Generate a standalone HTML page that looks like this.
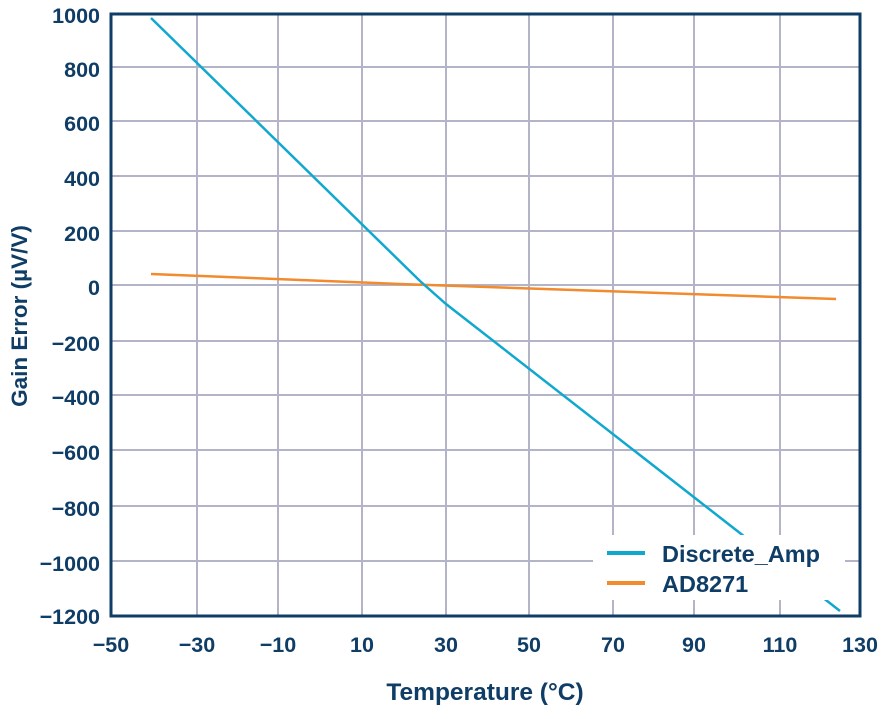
<!DOCTYPE html>
<html><head><style>body{margin:0;background:#fff}</style></head><body>
<svg width="891" height="714" xmlns="http://www.w3.org/2000/svg" font-family="Liberation Sans, sans-serif" font-weight="bold" fill="#0f3d66">
<g stroke="#b4b4c8" stroke-width="2">
<line x1="197" y1="14" x2="197" y2="616"/><line x1="278" y1="14" x2="278" y2="616"/><line x1="362" y1="14" x2="362" y2="616"/><line x1="446" y1="14" x2="446" y2="616"/><line x1="529" y1="14" x2="529" y2="616"/><line x1="613" y1="14" x2="613" y2="616"/><line x1="694" y1="14" x2="694" y2="616"/><line x1="780" y1="14" x2="780" y2="616"/>
<line x1="111" y1="67" x2="860" y2="67"/><line x1="111" y1="121" x2="860" y2="121"/><line x1="111" y1="176" x2="860" y2="176"/><line x1="111" y1="231" x2="860" y2="231"/><line x1="111" y1="285" x2="860" y2="285"/><line x1="111" y1="341" x2="860" y2="341"/><line x1="111" y1="395" x2="860" y2="395"/><line x1="111" y1="450" x2="860" y2="450"/><line x1="111" y1="506" x2="860" y2="506"/><line x1="111" y1="561" x2="860" y2="561"/>
</g>
<polyline points="151,274 400,284 836,299" fill="none" stroke="#f28a2e" stroke-width="2.5"/>
<polyline points="151,18 420,281 446,304 840,611" fill="none" stroke="#11a8d0" stroke-width="2.5"/>
<rect x="593" y="535" width="252" height="65" fill="#fff"/>
<line x1="607" y1="553" x2="645" y2="553" stroke="#11a8d0" stroke-width="4"/>
<line x1="607" y1="583" x2="645" y2="583" stroke="#f28a2e" stroke-width="4"/>
<text x="662" y="562" font-size="23.5">Discrete_Amp</text>
<text x="662" y="592" font-size="23.5">AD8271</text>
<rect x="111" y="14" width="749" height="602" fill="none" stroke="#0f3d66" stroke-width="3"/>
<g font-size="21.5" text-anchor="end">
<text x="100" y="23">1000</text><text x="100" y="77">800</text><text x="100" y="131">600</text><text x="100" y="186">400</text><text x="100" y="241">200</text><text x="100" y="295">0</text><text x="100" y="351">−200</text><text x="100" y="405">−400</text><text x="100" y="460">−600</text><text x="100" y="516">−800</text><text x="100" y="571">−1000</text><text x="100" y="624">−1200</text>
</g>
<g font-size="21.5" text-anchor="middle">
<text x="111" y="652">−50</text><text x="197" y="652">−30</text><text x="278" y="652">−10</text><text x="362" y="652">10</text><text x="446" y="652">30</text><text x="529" y="652">50</text><text x="613" y="652">70</text><text x="694" y="652">90</text><text x="780" y="652">110</text><text x="860" y="652">130</text>
</g>
<text x="485" y="700" font-size="24.5" text-anchor="middle">Temperature (°C)</text>
<text transform="translate(27,316) rotate(-90)" font-size="22.5" text-anchor="middle">Gain Error (µV/V)</text>
</svg>
</body></html>
